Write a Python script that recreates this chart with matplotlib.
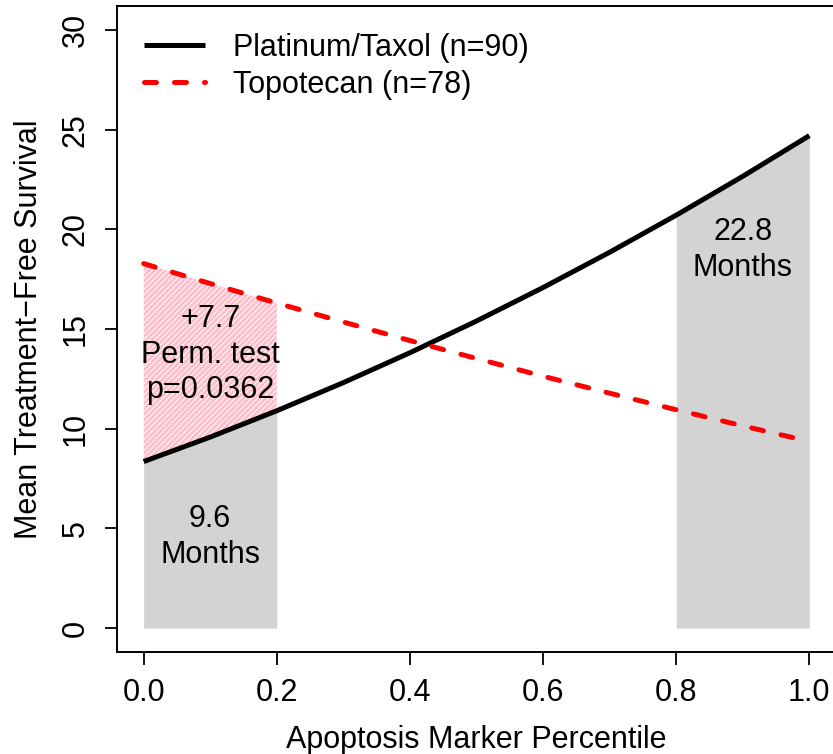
import numpy as np
import matplotlib
matplotlib.use("Agg")
import matplotlib.pyplot as plt

plt.rcParams['font.family'] = ['Liberation Sans', 'DejaVu Sans']
plt.rcParams['hatch.linewidth'] = 0.7
plt.rcParams['hatch.color'] = 'white'

# fitted mean treatment-free survival vs marker percentile
percentile = [0.0, 0.1, 0.2, 0.3, 0.4, 0.5, 0.6, 0.7, 0.8, 0.9, 1.0]
platinum = [8.35, 9.58, 10.90, 12.31, 13.81, 15.40, 17.08, 18.85, 20.71, 22.66, 24.70]
topotecan = [18.28, 17.28, 16.30, 15.35, 14.42, 13.52, 12.63, 11.78, 10.95, 10.14, 9.36]

series_labels = ['Platinum/Taxol (n=90)', 'Topotecan (n=78)']
low_text = '9.6\nMonths'
high_text = '22.8\nMonths'
diff_text = '+7.7\nPerm. test\np=0.0362'

x = np.array(percentile)
pt = np.array(platinum)
tp = np.array(topotecan)

fig = plt.figure(figsize=(8.33, 7.54), dpi=100)
ax = fig.add_axes([0.1405, 0.1353, 0.8631, 0.8567])
fs = 22

low = x <= 0.2 + 1e-9
high = x >= 0.8 - 1e-9

# shaded bands under the platinum curve
ax.fill_between(x[low], 0, pt[low], color='#d3d3d3', lw=0, zorder=1)
ax.fill_between(x[high], 0, pt[high], color='#d3d3d3', lw=0, zorder=1)
# gap between the two curves in the lowest quintile
ax.fill_between(x[low], pt[low], tp[low], facecolor='#ffbecb', hatch='//////',
                edgecolor='white', lw=0, zorder=1)

l1, = ax.plot(x, pt, color='black', lw=3.6, solid_capstyle='butt', zorder=3,
              label=series_labels[0])
l2, = ax.plot(x, tp, color='red', lw=3.6, dashes=(2.4, 3.6),
              dash_capstyle='round', zorder=3, label=series_labels[1])

ax.text(0.1, 4.55, low_text, ha='center', va='center', fontsize=fs,
        linespacing=1.25, zorder=4)
ax.text(0.9, 18.98, high_text, ha='center', va='center', fontsize=fs,
        linespacing=1.25, zorder=4)
ax.text(0.1, 13.72, diff_text, ha='center', va='center', fontsize=fs,
        linespacing=1.25, zorder=4)

ax.set_xlim(-0.04, 1.04)
ax.set_ylim(-1.2, 31.2)
ax.set_xticks([0.0, 0.2, 0.4, 0.6, 0.8, 1.0])
ax.set_xticklabels(['0.0', '0.2', '0.4', '0.6', '0.8', '1.0'])
ax.set_yticks([0, 5, 10, 15, 20, 25, 30])
ax.tick_params(axis='both', labelsize=fs, length=9, width=1.3, direction='out',
               pad=10)
ax.tick_params(axis='y', labelrotation=90)
for lab in ax.get_yticklabels():
    lab.set_va('center')
for sp in ax.spines.values():
    sp.set_linewidth(1.4)

ax.set_xlabel('Apoptosis Marker Percentile', fontsize=fs, labelpad=12)
ax.set_ylabel('Mean Treatment\u2212Free Survival', fontsize=fs, labelpad=12)

ax.legend(handles=[l1, l2], loc='upper left', frameon=False, fontsize=fs,
          handlelength=2.0, handletextpad=0.9, borderaxespad=0.68,
          borderpad=0.2, labelspacing=0.22, bbox_to_anchor=(0.0, 1.0))

fig.savefig('out.png', dpi=100)
